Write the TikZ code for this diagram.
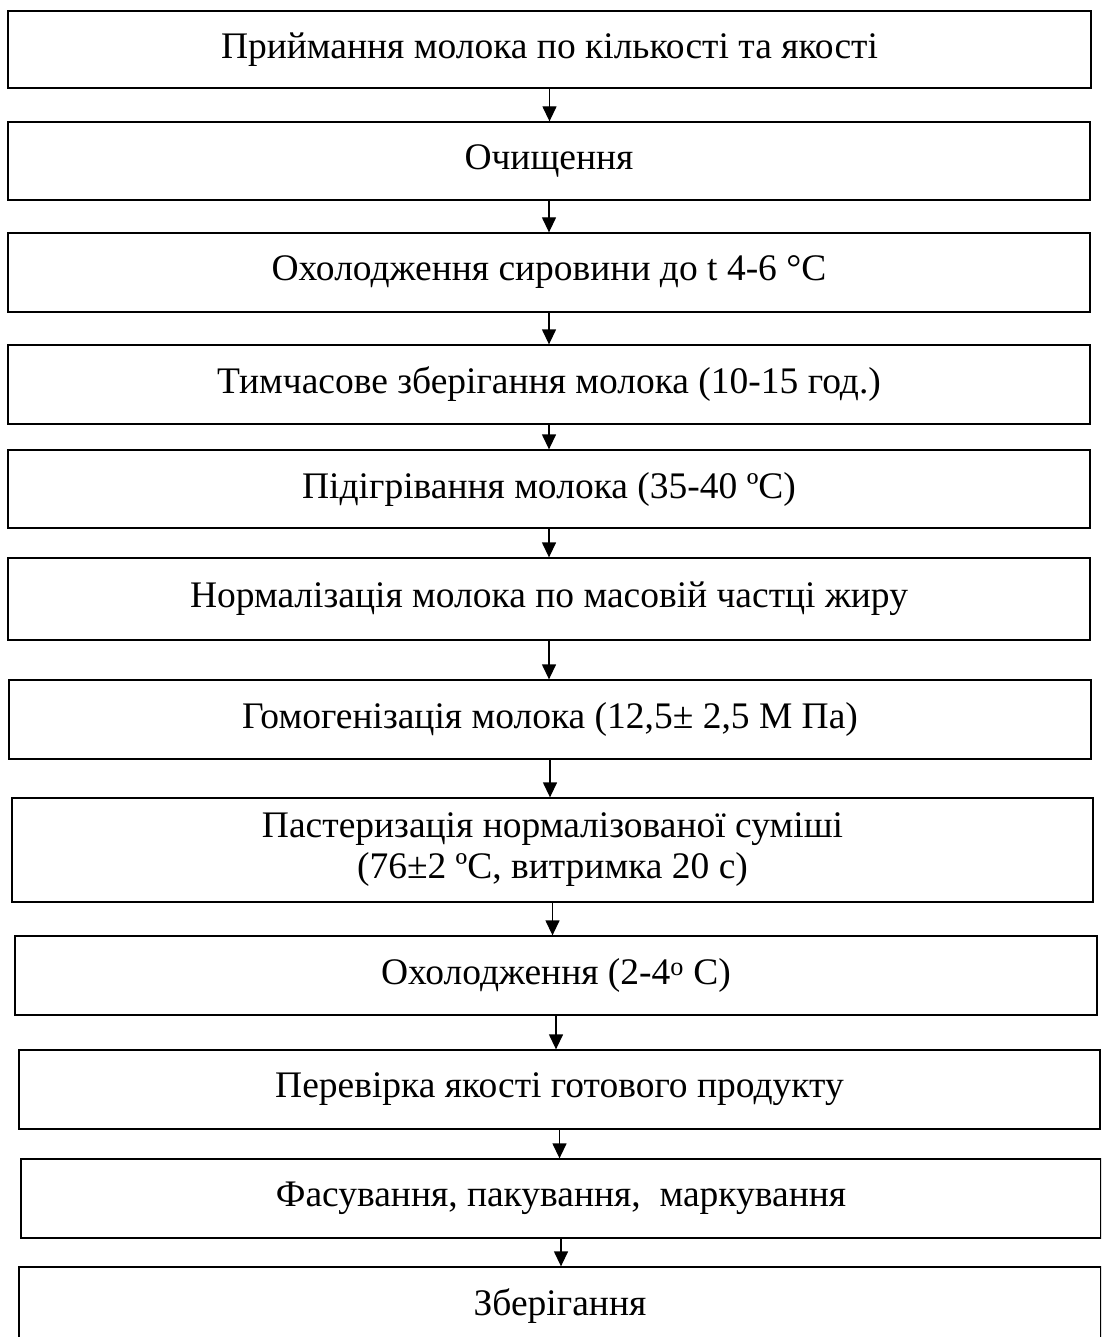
\documentclass[tikz,border=0pt]{standalone}
\usepackage{fontspec}
\setmainfont{Liberation Serif}
\usetikzlibrary{arrows.meta}

\begin{document}
\begin{tikzpicture}[x=1pt, y=-1pt,
  proc/.style={draw, rectangle, line width=1.3pt, align=center, inner sep=0pt, font=\fontsize{37.5}{41}\selectfont},
  arr/.style={-{Triangle[width=14pt, length=15pt]}, line width=1.3pt}
]
\useasboundingbox (0,0) rectangle (1101,1337);
\clip (0,0) rectangle (1101,1337);

\node[proc, minimum width=1083pt, minimum height=77pt] (pryimannia) at (549.5,49.5) {Приймання молока по кількості та якості};
\node[proc, minimum width=1082pt, minimum height=78pt] (ochyshchennia) at (549,161) {Очищення};
\node[proc, minimum width=1082pt, minimum height=79pt] (okholodzh) at (549,272.5) {Охолодження сировини до t 4-6 °C};
\node[proc, minimum width=1082pt, minimum height=79pt] (zberigTymch) at (549,384.5) {Тимчасове зберігання молока (10-15 год.)};
\node[proc, minimum width=1082pt, minimum height=78pt] (pidigriv) at (549,489) {Підігрівання молока (35-40 ºС)};
\node[proc, minimum width=1082pt, minimum height=82pt] (normaliz) at (549,599) {Нормалізація молока по масовій частці жиру};
\node[proc, minimum width=1082pt, minimum height=79pt] (gomogen) at (550,719.5) {Гомогенізація молока (12,5± 2,5 М Па)};
\node[proc, minimum width=1081pt, minimum height=104pt] (pasteriz) at (552.5,850) {Пастеризація нормалізованої суміші\\(76±2 ºС, витримка 20 с)};
\node[proc, minimum width=1082pt, minimum height=79pt] (okholodzh2) at (556,975.5) {Охолодження (2-4\textsuperscript{о} С)};
\node[proc, minimum width=1081pt, minimum height=79pt] (perevirka) at (559.5,1089.5) {Перевірка якості готового продукту};
\node[proc, minimum width=1080pt, minimum height=79pt] (fasuv) at (561,1198.5) {Фасування, пакування,\ \ маркування};
\node[proc, minimum width=1082pt, minimum height=79pt] (zberig) at (560,1306.5) {Зберігання};

% Arrows - main flow
\draw[arr] (pryimannia.south) -- (pryimannia.south |- ochyshchennia.north);
\draw[arr] (ochyshchennia.south) -- (ochyshchennia.south |- okholodzh.north);
\draw[arr] (okholodzh.south) -- (okholodzh.south |- zberigTymch.north);
\draw[arr] (zberigTymch.south) -- (zberigTymch.south |- pidigriv.north);
\draw[arr] (pidigriv.south) -- (pidigriv.south |- normaliz.north);
\draw[arr] (normaliz.south) -- (normaliz.south |- gomogen.north);
\draw[arr] (gomogen.south) -- (gomogen.south |- pasteriz.north);
\draw[arr] (pasteriz.south) -- (pasteriz.south |- okholodzh2.north);
\draw[arr] (okholodzh2.south) -- (okholodzh2.south |- perevirka.north);
\draw[arr] (perevirka.south) -- (perevirka.south |- fasuv.north);
\draw[arr] (fasuv.south) -- (fasuv.south |- zberig.north);

\end{tikzpicture}
\end{document}
